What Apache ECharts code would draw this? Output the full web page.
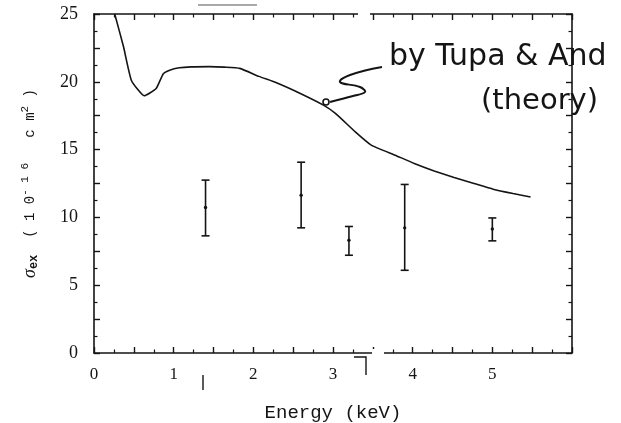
<!DOCTYPE html>
<html><head><meta charset="utf-8">
<script src="https://cdn.jsdelivr.net/npm/echarts@6/dist/echarts.min.js"></script>
<style>html,body{margin:0;padding:0;background:#fff}#c{width:621px;height:423px}</style>
</head><body><div id="c"></div>
<script>
// Theory curve (Tupa & And)
const theoryEnergy = [0.26,0.37,0.47,0.63,0.78,0.87,0.95,1.07,1.22,1.45,1.64,1.83,2.07,2.29,2.59,2.88,3.03,3.28,3.48,3.78,4.02,4.27,4.52,4.77,5.01,5.26,5.48];
const theorySigma  = [25.0,22.6,20.1,18.97,19.5,20.6,20.86,21.03,21.1,21.12,21.08,20.99,20.4,19.93,19.14,18.28,17.67,16.31,15.33,14.59,13.98,13.43,12.94,12.5,12.08,11.76,11.51];
// Experimental points with error bars
const expEnergy = [1.40, 2.60, 3.20, 3.90, 5.00];
const expSigma  = [10.73, 11.64, 8.32, 9.23, 9.15];
const expLow    = [8.64, 9.23, 7.21, 6.10, 8.27];
const expHigh   = [12.75, 14.07, 9.33, 12.43, 9.96];
// Axis ticks
const xLabels = [0,1,2,3,4,5];
const yLabels = [0,5,10,15,20,25];

const ink = '#141414';
const chart = echarts.init(document.getElementById('c'), null, {renderer:'canvas'});
const xTickCommon = {
  min:0, max:6, interval:0.5,
  axisLine:{show:true, onZero:false, lineStyle:{color:ink, width:1.6}},
  axisTick:{show:true, inside:true, length:6, lineStyle:{color:ink, width:1.4}},
  minorTick:{show:true, splitNumber:2, length:3.5, lineStyle:{color:ink, width:1.2}},
  splitLine:{show:false}
};
const yTickCommon = {
  min:0, max:25, interval:2.5,
  axisLine:{show:true, onZero:false, lineStyle:{color:ink, width:1.6}},
  axisTick:{show:true, inside:true, length:6, lineStyle:{color:ink, width:1.4}},
  minorTick:{show:true, splitNumber:2, length:3.5, lineStyle:{color:ink, width:1.2}},
  splitLine:{show:false}
};
chart.setOption({
  animation:false,
  backgroundColor:'#ffffff',
  grid:{left:94, right:49, top:14, bottom:70, containLabel:false, outerBoundsMode:'none'},
  xAxis:[
    Object.assign({type:'value', position:'bottom',
      name:'Energy (keV)', nameLocation:'middle', nameGap:50,
      nameTextStyle:{fontFamily:'Liberation Mono', fontSize:19, color:ink},
      axisLabel:{margin:13, fontFamily:'Liberation Serif', fontSize:17, color:ink,
        formatter:v => xLabels.includes(v) ? String(v) : ''}
    }, xTickCommon),
    Object.assign({type:'value', position:'top', axisLabel:{show:false}}, xTickCommon)
  ],
  yAxis:[
    Object.assign({type:'value', position:'left',
      name:'{s|σ}{sub|ex}{n|  ( 1 0}{sup|- 1 6}{n|   c m}{sup|2}{n| )}',
      nameLocation:'middle', nameGap:54, nameRotate:90,
      nameTextStyle:{color:ink, rich:{
        s:{fontFamily:'Liberation Serif', fontSize:18, fontStyle:'italic', color:ink},
        sub:{fontFamily:'Liberation Mono', fontSize:12, verticalAlign:'bottom', padding:[8,0,0,0], color:ink, fontWeight:'bold'},
        n:{fontFamily:'Liberation Mono', fontSize:14, color:ink},
        sup:{fontFamily:'Liberation Mono', fontSize:11, verticalAlign:'top', padding:[0,0,8,0], color:ink}
      }},
      axisLabel:{margin:16, fontFamily:'Liberation Serif', fontSize:18, color:ink,
        formatter:v => yLabels.includes(v) ? String(v) : ''}
    }, yTickCommon),
    Object.assign({type:'value', position:'right', axisLabel:{show:false}}, yTickCommon)
  ],
  series:[
    {type:'line', xAxisIndex:0, yAxisIndex:0, showSymbol:false, symbol:'none',
     data: theoryEnergy.map((x,i)=>[x, theorySigma[i]]),
     lineStyle:{color:ink, width:1.6}, clip:true, smooth:0.15},
    {type:'custom', xAxisIndex:0, yAxisIndex:0,
     data: expEnergy.map((x,i)=>[x, expSigma[i], expLow[i], expHigh[i]]),
     renderItem:(params, api) => {
       const x = api.value(0);
       const pC = api.coord([x, api.value(1)]);
       const pL = api.coord([x, api.value(2)]);
       const pH = api.coord([x, api.value(3)]);
       const w = 4;
       const st = {stroke:ink, lineWidth:1.6};
       return {type:'group', children:[
         {type:'line', shape:{x1:pL[0], y1:pL[1], x2:pH[0], y2:pH[1]}, style:st},
         {type:'line', shape:{x1:pL[0]-w, y1:pL[1], x2:pL[0]+w, y2:pL[1]}, style:st},
         {type:'line', shape:{x1:pH[0]-w, y1:pH[1], x2:pH[0]+w, y2:pH[1]}, style:st},
         {type:'circle', shape:{cx:pC[0], cy:pC[1], r:1.7}, style:{fill:ink}}
       ]};
     }}
  ],
  graphic:[
    {type:'text', left:389, top:42, z:100, style:{text:'by Tupa & And', fontFamily:'DejaVu Sans', fontSize:30, fill:ink}},
    {type:'text', left:481, top:87, z:100, style:{text:'(theory)', fontFamily:'DejaVu Sans', fontSize:29, fill:ink}},
    {type:'polyline', z:100, shape:{points:[[382,67],[350,75],[340,82],[360,87],[365,92],[353,96],[330,102]], smooth:0.4},
     style:{stroke:ink, lineWidth:2, fill:null}},
    {type:'circle', z:100, shape:{cx:326, cy:102, r:3}, style:{stroke:ink, lineWidth:1.6, fill:'#fff'}},
    // scan artifacts
    {type:'rect', z:90, shape:{x:372, y:349, width:12, height:8}, style:{fill:'#fff'}},
    {type:'rect', z:90, shape:{x:358, y:10, width:12, height:8}, style:{fill:'#fff'}},
    {type:'line', z:100, shape:{x1:198, y1:5, x2:257, y2:5}, style:{stroke:'#555', lineWidth:1.2}},
    {type:'polyline', z:100, shape:{points:[[354,357],[366,357],[366,375]]}, style:{stroke:ink, lineWidth:1.4, fill:null}},
    {type:'line', z:100, shape:{x1:203, y1:375, x2:203, y2:390}, style:{stroke:ink, lineWidth:1.4}}
  ]
});
</script></body></html>
